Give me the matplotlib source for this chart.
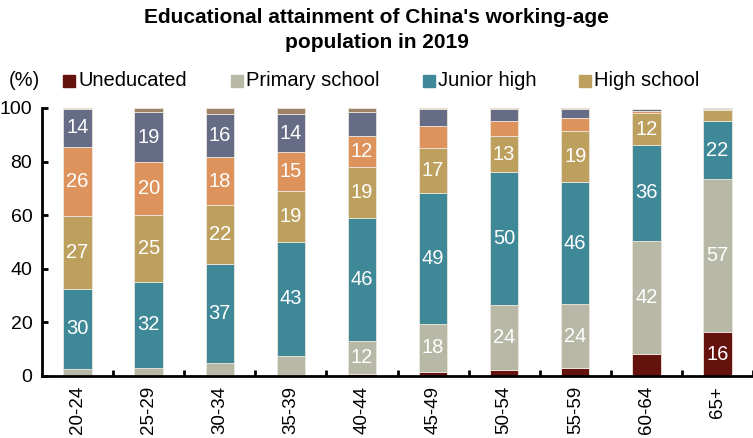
import numpy as np
from matplotlib import pyplot as plt
from matplotlib.patches import Rectangle

plt.rcParams['font.family'] = ['Liberation Sans', 'DejaVu Sans']

# age groups on the x axis
ages = ['20-24', '25-29', '30-34', '35-39', '40-44',
        '45-49', '50-54', '55-59', '60-64', '65+']

# share of each education level (%), bottom to top
uneducated = [0.2, 0.2, 0.2, 0.2, 0.7, 1.5, 2.1, 3.0, 8.2, 16.4]
primary    = [2.4, 2.9, 4.5, 7.3, 12.2, 18.0, 24.4, 23.7, 42.3, 57.1]
junior     = [30.0, 32.0, 37.0, 42.6, 46.0, 48.8, 49.6, 45.6, 35.6, 21.6]
high       = [27.0, 25.0, 22.0, 18.8, 19.0, 16.6, 13.3, 19.2, 12.1, 4.2]
vocational = [26.0, 19.6, 18.0, 14.6, 11.7, 8.5, 5.8, 4.8, 0.7, 0.4]
college    = [14.0, 18.7, 16.0, 14.2, 9.0, 6.2, 4.4, 3.3, 0.6, 0.4]
graduate   = [0.5, 1.6, 2.3, 2.3, 1.4, 0.5, 0.5, 0.3, 0.3, 0.1]

series = [uneducated, primary, junior, high, vocational, college, graduate]
names = ['Uneducated', 'Primary school', 'Junior high', 'High school']
colors = ['#65120f', '#b8b8a6', '#3e8898', '#bea05e',
          '#de935c', '#666c85', '#9e8368']

W, H = 753, 438
fig = plt.figure(figsize=(W/100, H/100), dpi=100)
ax = fig.add_axes([42/W, 1-376/H, 711/W, 268/H])

x = np.arange(len(ages))
bottom = np.zeros(len(ages))
for k in range(len(series)):
    vals = np.array(series[k])
    ax.bar(x, vals, 0.4, bottom=bottom, color=colors[k],
           edgecolor='#ece6dc', linewidth=0.6)
    #label the big segments
    if k < 6:
        for i in range(len(ages)):
            if vals[i] >= 10:
                ax.text(x[i], bottom[i] + vals[i]/2, str(int(round(vals[i]))),
                        ha='center', va='center', color='white', fontsize=14.5)
    bottom = bottom + vals

ax.set_xlim(-0.5, 9.404)
ax.set_ylim(0, 100)
ax.set_yticks([0, 20, 40, 60, 80, 100])
ax.tick_params(axis='y', direction='in', length=4, width=2,
               labelsize=14, pad=7)
ax.set_xticks(x + 0.5)
ax.set_xticks(x, minor=True)
ax.set_xticklabels([])
ax.set_xticklabels(ages, minor=True, rotation=90, fontsize=13.5)
ax.tick_params(axis='x', which='major', direction='in', length=4.5, width=2)
ax.tick_params(axis='x', which='minor', length=0, pad=7)
ax.spines['top'].set_visible(False)
ax.spines['right'].set_visible(False)
ax.spines['left'].set_linewidth(2)
ax.spines['bottom'].set_linewidth(2)

fig.text(0.5, 1-8/H, "Educational attainment of China's working-age\npopulation in 2019",
         ha='center', va='top', fontsize=15, fontweight='bold', linespacing=1.4)
fig.text(9/W, 1-81/H, '(%)', ha='left', va='center', fontsize=14.5)

#legend drawn by hand so the entries sit where they do in the source
leg_x = [63, 231, 423, 579]
for k in range(4):
    fig.add_artist(Rectangle((leg_x[k]/W, 1-87/H), 12/W, 12/H,
                             transform=fig.transFigure, color=colors[k]))
    fig.text((leg_x[k]+15)/W, 1-81/H, names[k], ha='left', va='center',
             fontsize=14.5)

plt.savefig('out.png', dpi=100)
